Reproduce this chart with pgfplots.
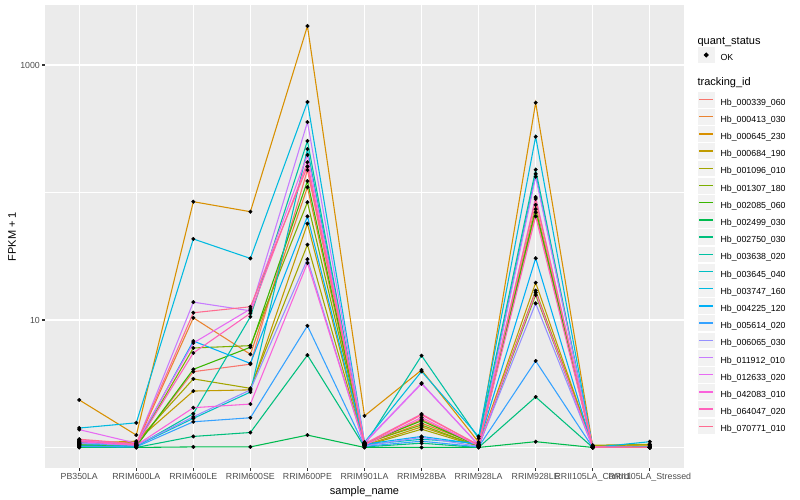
\documentclass[border=0pt]{standalone}
\usepackage{fontspec}
\setmainfont{Liberation Sans}
\usepackage{pgfplots}
\pgfplotsset{compat=1.18}

\definecolor{ggbg}{HTML}{EBEBEB}
\definecolor{ggkey}{HTML}{F2F2F2}
\definecolor{gg20}{HTML}{333333}
\definecolor{gg30}{HTML}{4D4D4D}
\definecolor{c1}{HTML}{F8766D}
\definecolor{c2}{HTML}{EA8331}
\definecolor{c3}{HTML}{D89000}
\definecolor{c4}{HTML}{C09B00}
\definecolor{c5}{HTML}{A3A500}
\definecolor{c6}{HTML}{7CAE00}
\definecolor{c7}{HTML}{39B600}
\definecolor{c8}{HTML}{00BB4E}
\definecolor{c9}{HTML}{00BF7D}
\definecolor{c10}{HTML}{00C1A3}
\definecolor{c11}{HTML}{00BFC4}
\definecolor{c12}{HTML}{00BAE0}
\definecolor{c13}{HTML}{00B0F6}
\definecolor{c14}{HTML}{35A2FF}
\definecolor{c15}{HTML}{9590FF}
\definecolor{c16}{HTML}{C77CFF}
\definecolor{c17}{HTML}{E76BF3}
\definecolor{c18}{HTML}{FA62DB}
\definecolor{c19}{HTML}{FF62BC}
\definecolor{c20}{HTML}{FF6C91}

\begin{document}
\begin{tikzpicture}
\begin{axis}[
  set layers, mark layer=axis foreground,
  scale only axis, width=639bp, height=463bp,
  ymode=log,
  xmin=-0.6, xmax=10.6, ymin=0.69, ymax=2958,
  xtick={0,...,10},
  xticklabels={PB350LA,RRIM600LA,RRIM600LE,RRIM600SE,RRIM600PE,RRIM901LA,RRIM928BA,RRIM928LA,RRIM928LE,RRII105LA\_Control,RRII105LA\_Stressed},
  ytick={10,1000}, yticklabels={10,1000},
  minor ytick={1,100},
  grid=both,
  major grid style={white, line width=1.07bp},
  minor grid style={white, line width=0.53bp},
  axis background/.style={fill=ggbg},
  axis line style={draw=none},
  tick pos=left, tick align=outside,
  major tick length=2.75bp, minor tick length=0pt,
  tick style={gg20, line width=1.07bp},
  ticklabel style={font=\fontsize{8.8bp}{10bp}\selectfont, text=gg30},
  xticklabel style={inner sep=0pt, yshift=-2.2bp},
  yticklabel style={inner sep=0pt, xshift=-2.2bp},
  xlabel={sample\_name}, ylabel={FPKM + 1},
  label style={font=\fontsize{11bp}{13bp}\selectfont},
  xlabel style={at={(axis description cs:0.5,-0.0515)}, anchor=center},
  ylabel style={at={(axis description cs:-0.0516,0.5)}, anchor=center},
  every axis plot/.append style={line width=1.07bp, mark=*, mark size=1.8bp,
    mark options={solid, draw=black, fill=black, line width=0.4bp}},
  legend style={at={(rel axis cs:1.0203,0.9311)}, anchor=north west,
    draw=none, fill=none, inner sep=0pt, outer sep=0pt, row sep=0pt,
    font=\fontsize{8.8bp}{10bp}\selectfont, nodes={inner sep=0pt},
    /tikz/every odd column/.append style={column sep=5.5bp}},
  legend cell align=left,
  legend image code/.code={%
    \filldraw[fill=ggkey, draw=white, line width=0.5bp] (0bp,-5.25bp) rectangle (17.3bp,11.45bp);
    \draw[#1, line width=1.3bp] (1.73bp,3.1bp) -- (15.57bp,3.1bp);},
]
\addlegendimage{legend image code/.code={}}
\addlegendentry{\hspace*{-23bp}\fontsize{11bp}{13bp}\selectfont\rule[-4.45bp]{0pt}{12.45bp}quant\_status}
\addlegendimage{legend image code/.code={%
    \filldraw[fill=ggkey, draw=white, line width=0.5bp] (0bp,-5.25bp) rectangle (17.3bp,11.45bp);
    \fill[black] (8.65bp,3.1bp) circle[radius=1.9bp];}}
\addlegendentry{OK}
\addlegendimage{legend image code/.code={}}
\addlegendentry{\hspace*{-23bp}\fontsize{11bp}{13bp}\selectfont\rule[-11.45bp]{0pt}{33.7bp}tracking\_id}

\addplot[c1, legend image code/.code={%
    \fill[white] (0bp,11.7bp) rectangle (1bp,14.7bp);
    \filldraw[fill=ggkey, draw=white, line width=0.5bp] (0bp,-5.25bp) rectangle (17.3bp,11.45bp);
    \draw[c1, line width=1.3bp] (1.73bp,3.1bp) -- (15.57bp,3.1bp);}]
  coordinates {(0,1.12) (1,1.03) (2,3.93) (3,4.50) (4,150) (5,1.05) (6,1.66) (7,1.04) (8,80) (9,1.01) (10,1.00)};
\addlegendentry{Hb\_000339\_060}
\addplot[c2] coordinates {(0,1.10) (1,1.05) (2,10.4) (3,5.38) (4,110) (5,1.06) (6,1.55) (7,1.05) (8,70) (9,1.02) (10,1.01)};
\addlegendentry{Hb\_000413\_030}
\addplot[c3] coordinates {(0,2.36) (1,1.25) (2,84.7) (3,70.7) (4,2023) (5,1.77) (6,4.05) (7,1.10) (8,506) (9,1.02) (10,1.03)};
\addlegendentry{Hb\_000645\_230}
\addplot[c4] coordinates {(0,1.08) (1,1.12) (2,2.77) (3,2.83) (4,57) (5,1.04) (6,1.45) (7,1.03) (8,19.6) (9,1.03) (10,1.05)};
\addlegendentry{Hb\_000684\_190}
\addplot[c5] coordinates {(0,1.06) (1,1.10) (2,3.45) (3,2.91) (4,39) (5,1.03) (6,1.39) (7,1.02) (8,17) (9,1.04) (10,1.06)};
\addlegendentry{Hb\_001096\_010}
\addplot[c6] coordinates {(0,1.05) (1,1.04) (2,6.03) (3,6.29) (4,84) (5,1.08) (6,1.50) (7,1.02) (8,15.7) (9,1.02) (10,1.02)};
\addlegendentry{Hb\_001307\_180}
\addplot[c7] coordinates {(0,1.04) (1,1.02) (2,4.10) (3,6.11) (4,123) (5,1.07) (6,1.62) (7,1.03) (8,74) (9,1.01) (10,1.00)};
\addlegendentry{Hb\_002085\_060}
\addplot[c8] coordinates {(0,1.00) (1,1.00) (2,1.01) (3,1.01) (4,1.25) (5,1.00) (6,1.00) (7,1.00) (8,1.11) (9,1.00) (10,1.00)};
\addlegendentry{Hb\_002499\_030}
\addplot[c9] coordinates {(0,1.01) (1,1.00) (2,1.22) (3,1.31) (4,5.3) (5,1.01) (6,1.08) (7,1.00) (8,2.49) (9,1.00) (10,1.00)};
\addlegendentry{Hb\_002750\_030}
\addplot[c10] coordinates {(0,1.03) (1,1.02) (2,1.84) (3,10.6) (4,254) (5,1.04) (6,5.25) (7,1.18) (8,151) (9,1.00) (10,1.00)};
\addlegendentry{Hb\_003638\_020}
\addplot[c11] coordinates {(0,1.07) (1,1.03) (2,1.69) (3,2.72) (4,219) (5,1.05) (6,1.16) (7,1.08) (8,140) (9,1.01) (10,1.01)};
\addlegendentry{Hb\_003645\_040}
\addplot[c12] coordinates {(0,1.42) (1,1.56) (2,43.2) (3,30.4) (4,513) (5,1.10) (6,3.95) (7,1.22) (8,274) (9,1.00) (10,1.11)};
\addlegendentry{Hb\_003747\_160}
\addplot[c13] coordinates {(0,1.09) (1,1.05) (2,6.84) (3,4.56) (4,65) (5,1.06) (6,1.22) (7,1.06) (8,30.5) (9,1.00) (10,1.00)};
\addlegendentry{Hb\_004225\_120}
\addplot[c14] coordinates {(0,1.02) (1,1.01) (2,1.59) (3,1.71) (4,9.0) (5,1.02) (6,1.12) (7,1.01) (8,4.77) (9,1.00) (10,1.00)};
\addlegendentry{Hb\_005614\_020}
\addplot[c15] coordinates {(0,1.08) (1,1.04) (2,1.74) (3,2.83) (4,30) (5,1.03) (6,1.20) (7,1.02) (8,13.5) (9,1.00) (10,1.00)};
\addlegendentry{Hb\_006065\_030}
\addplot[c16] coordinates {(0,1.15) (1,1.06) (2,13.8) (3,11.8) (4,357) (5,1.09) (6,3.20) (7,1.04) (8,133) (9,1.01) (10,1.00)};
\addlegendentry{Hb\_011912\_010}
\addplot[c17] coordinates {(0,1.38) (1,1.08) (2,6.6) (3,12.2) (4,197) (5,1.08) (6,3.16) (7,1.05) (8,92) (9,1.00) (10,1.00)};
\addlegendentry{Hb\_012633\_020}
\addplot[c18] coordinates {(0,1.11) (1,1.04) (2,2.05) (3,2.19) (4,28) (5,1.04) (6,1.72) (7,1.03) (8,16.4) (9,1.00) (10,1.00)};
\addlegendentry{Hb\_042083\_010}
\addplot[c19] coordinates {(0,1.13) (1,1.05) (2,5.51) (3,11.3) (4,173) (5,1.07) (6,1.83) (7,1.04) (8,65) (9,1.00) (10,1.00)};
\addlegendentry{Hb\_064047\_020}
\addplot[c20] coordinates {(0,1.16) (1,1.07) (2,11.4) (3,12.7) (4,160) (5,1.06) (6,1.80) (7,1.05) (8,89) (9,1.01) (10,1.00)};
\addlegendentry{Hb\_070771\_010}
\end{axis}
\pgfresetboundingbox
\path (-45bp,-32bp) rectangle (755bp,468bp);
\end{tikzpicture}
\end{document}
